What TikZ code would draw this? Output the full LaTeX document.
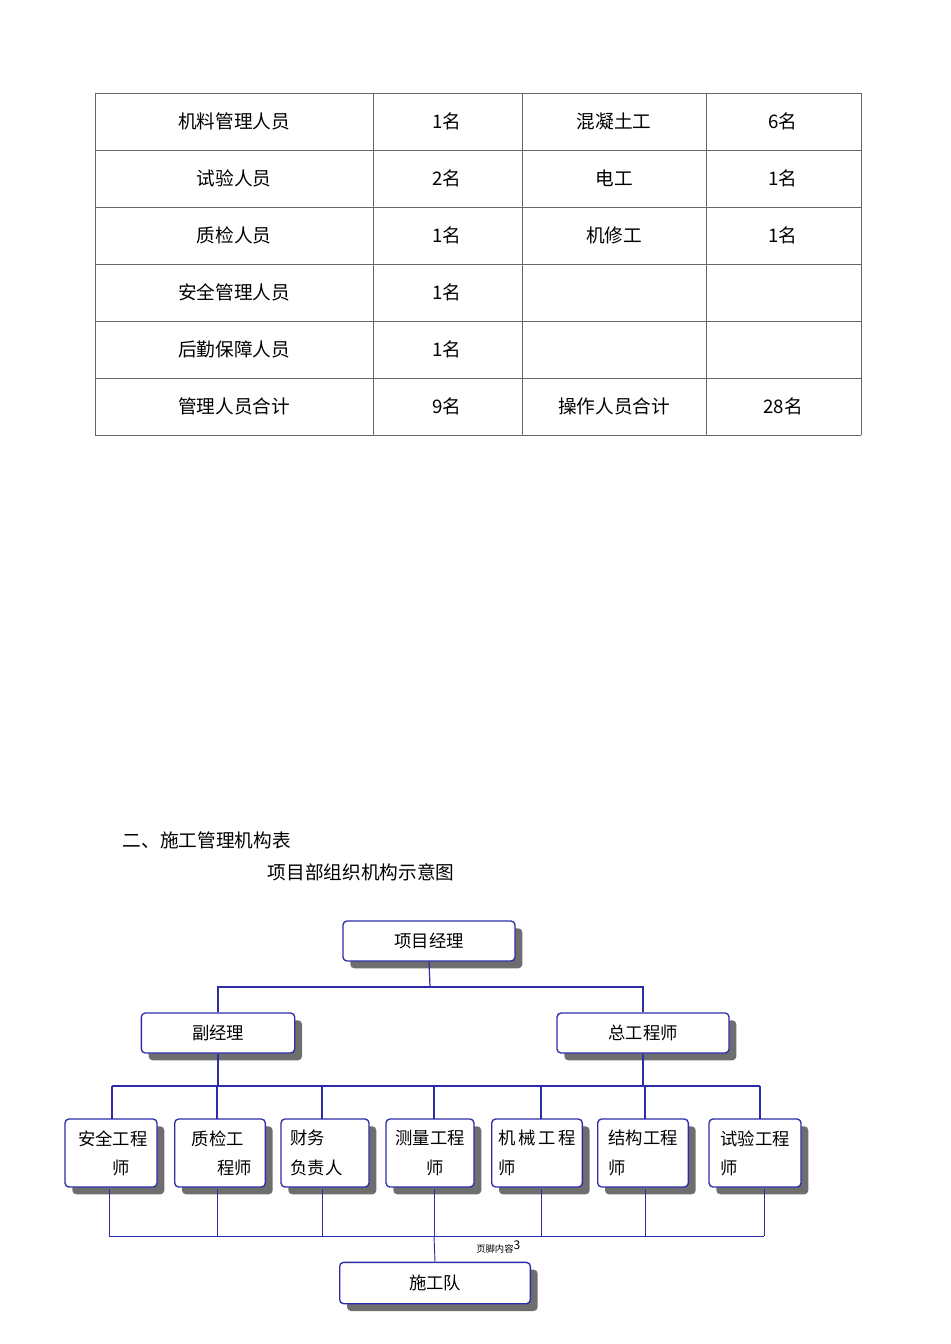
\documentclass[tikz,border=0pt]{standalone}
\usepackage{fontspec}
\setmainfont{Liberation Serif}
\newfontfamily\cjk{Noto Sans CJK SC}
\usetikzlibrary{shadows}
\definecolor{lineblue}{RGB}{45,45,170}
\definecolor{shadowgray}{RGB}{110,110,110}
\begin{document}
\begin{tikzpicture}[x=0.75pt,y=-0.75pt,
  cell/.style={font=\cjk\fontsize{14}{16}\selectfont},
  orgbox/.style={draw=lineblue,line width=1pt,rounded corners=3pt,fill=white,
    drop shadow={shadow xshift=5.5pt,shadow yshift=-5.5pt,fill=shadowgray,opacity=1},
    font=\cjk\fontsize{13}{22}\selectfont,inner sep=0pt,align=left},
  wire/.style={draw=lineblue,line width=0.9pt}]
\useasboundingbox (0,0) rectangle (950,1344);
% table
\foreach \x in {95,373,522,706,861} \draw[gray!80!black,line width=0.6pt] (\x,93) -- (\x,435);
\foreach \y in {93,150,207,264,321,378,435} \draw[gray!80!black,line width=0.6pt] (95,\y) -- (861,\y);
\foreach \y/\a/\b/\c/\d in {121/机料管理人员/1名/混凝土工/6名,178/试验人员/2名/电工/1名,235/质检人员/1名/机修工/1名,292/安全管理人员/1名//,349/后勤保障人员/1名//,406/管理人员合计/9名/操作人员合计/28名}{
  \node[cell] (t\y a) at (234,\y) {\a};
  \node[cell] (t\y b) at (447,\y) {\b};
  \node[cell] (t\y c) at (614,\y) {\c};
  \node[cell] (t\y d) at (783,\y) {\d};
}
\node[cell,anchor=west] (h1) at (118,840) {二、施工管理机构表};
\node[cell,anchor=west] (h2) at (263,872) {项目部组织机构示意图};
% boxes
\node[orgbox,minimum width=129pt,minimum height=30pt,align=center] (pm) at (429,941) {项目经理};
\node[orgbox,minimum width=115pt,minimum height=30pt,align=center] (dm) at (218,1033) {副经理};
\node[orgbox,minimum width=129pt,minimum height=30pt,align=center] (ce) at (643,1033) {总工程师};
\node[orgbox,minimum width=69pt,minimum height=51pt] (b1) at (111,1153) {\ 安全工程\\\hspace{2.2em}师};
\node[orgbox,minimum width=68pt,minimum height=51pt] (b2) at (220,1153) {\ 质检工\\\hspace{1.7em}程师};
\node[orgbox,minimum width=66pt,minimum height=51pt] (b3) at (325,1153) {财务\phantom{工程}\\负责人\phantom{工}};
\node[orgbox,minimum width=66pt,minimum height=51pt] (b4) at (430,1153) {测量工程\\\hspace{1.8em}师};
\node[orgbox,minimum width=68pt,minimum height=51pt] (b5) at (537,1153) {机\,械\,工\,程\\师\phantom{械工程}};
\node[orgbox,minimum width=68pt,minimum height=51pt] (b6) at (643,1153) {结构工程\\师\phantom{构工程}};
\node[orgbox,minimum width=69pt,minimum height=51pt] (b7) at (755,1153) {试验工程\\师\phantom{验工程}};
\node[orgbox,minimum width=143pt,minimum height=31pt,align=center] (team) at (435,1283) {施工队};
% wires
\coordinate (j1) at (430,987);
\draw[wire] (pm.south) -- (j1);
\draw[wire] (dm.north) |- (j1) -| (ce.north);
\coordinate (busL) at (112,1086); \coordinate (busR) at (760,1086);
\draw[wire] (busL) -- (busR);
\draw[wire] (dm.south) -- (dm.south |- busL);
\draw[wire] (ce.south) -- (ce.south |- busL);
\foreach \b/\x in {b1/112,b2/217,b3/322,b4/434,b5/541,b6/645,b7/760}
  \draw[wire] (\x,1086) -- (\x,1119);
\coordinate (botL) at (109,1236); \coordinate (botR) at (764,1236);
\draw[wire,line width=0.7pt] (botL) -- (botR);
\foreach \x in {109,217,322,434,541,645,764}
  \draw[wire,line width=0.7pt] (\x,1189) -- (\x,1236);
\draw[wire,line width=0.7pt] (434,1236) -- (team.north);
\node[font=\cjk\fontsize{7}{8}\selectfont,anchor=west,inner sep=0pt] (foot) at (476,1247) {页脚内容\raisebox{0.5ex}{\fontsize{9}{9}\selectfont 3}};
\end{tikzpicture}
\end{document}
